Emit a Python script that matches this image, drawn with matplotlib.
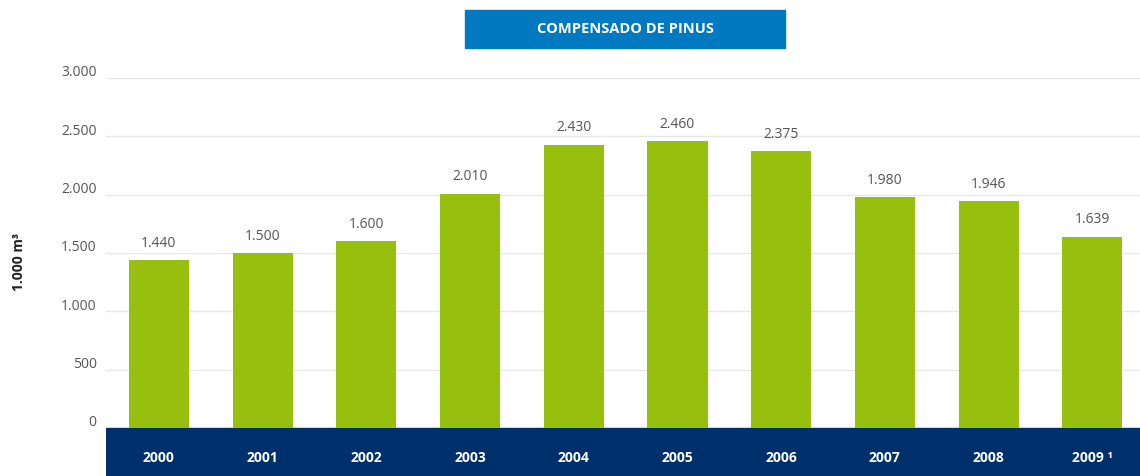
import matplotlib
matplotlib.use("Agg")
import matplotlib.pyplot as plt
from matplotlib.patches import Rectangle

years = ["2000", "2001", "2002", "2003", "2004", "2005", "2006", "2007", "2008", "2009 \u00b9"]
values = [1440, 1500, 1600, 2010, 2430, 2460, 2375, 1980, 1946, 1639]
yticks = [0, 500, 1000, 1500, 2000, 2500, 3000]
title = "COMPENSADO DE PINUS"
ylabel = "1.000 m\u00b3"

GREEN = "#97bf0d"
NAVY = "#00306b"
BLUE = "#0079c1"
GRAY = "#555555"

plt.rcParams["font.family"] = ["Open Sans", "DejaVu Sans"]


def fmt(v):
    return f"{v:,}".replace(",", ".")


fig = plt.figure(figsize=(11.4, 4.76), dpi=100)
band = 411  # navy band below zero, in data units
ax = fig.add_axes([106 / 1140, 0, 1 - 106 / 1140, 398 / 476])
ax.set_ylim(-band, 3000)
ax.set_xlim(-0.51, len(years) - 1 + 0.46)

x = range(len(years))
for t in yticks[1:]:
    ax.axhline(t, color="#e8e8e8", linewidth=1, zorder=0)
ax.axhspan(-band, 0, color=NAVY, zorder=1)
ax.bar(x, values, width=0.58, color=GREEN, zorder=2)

for i, v in enumerate(values):
    ax.text(i, v + 80, fmt(v), ha="center", va="bottom", fontsize=10, color=GRAY)
    ax.text(i, -band / 2 - 50, years[i], ha="center", va="center", fontsize=10,
            fontweight="bold", color="white")

for t in yticks:
    ax.text(-0.6, t - 20, fmt(t), ha="right", va="bottom", fontsize=10, color=GRAY,
            clip_on=False)

for s in ax.spines.values():
    s.set_visible(False)
ax.set_xticks([])
ax.set_yticks([])

fig.text(19 / 1140, 1 - 262 / 476, ylabel, rotation=90, ha="center", va="center",
         fontsize=10, fontweight="bold", color="#222222")

fig.patches.append(Rectangle((465 / 1140, 1 - 48 / 476), 320 / 1140, 38 / 476,
                             transform=fig.transFigure, color=BLUE, zorder=0))
fig.text(625 / 1140, 1 - 29 / 476, title, ha="center", va="center", fontsize=10.5,
         fontweight="bold", color="white")

fig.savefig("out.png", dpi=100)
